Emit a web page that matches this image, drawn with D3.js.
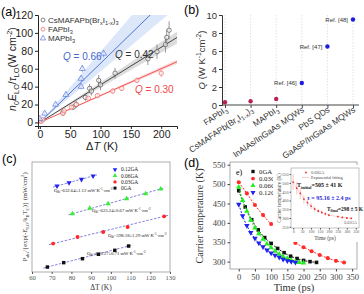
<!DOCTYPE html>
<html lang="en">
<head>
<meta charset="utf-8">
<title>Hot carrier cooling panels</title>
<script src="https://cdn.jsdelivr.net/npm/d3@7"></script>
<style>
	body { margin: 0; background: #fff; }
	svg text { font-family: "Liberation Sans", Arial, sans-serif; }
	.serif text { font-family: "Liberation Serif", "Times New Roman", serif; }
</style>
</head>
<body>
<script>
//---- panel (a) data
var aLabels = ["CsMAFAPb(Br_xI_{1-x})_3", "FAPbI_3", "MAPbI_3"];
var aSlopes = [0.42, 0.30, 0.66];
var aBandLo = [0.39, 0.29, 0.57];
var aBandHi = [0.45, 0.31, 0.79];
var aCsT = [1, 38, 55, 60, 75, 82, 85, 97, 100, 124, 178, 193, 207, 209, 213];
var aCsV = [2, 11, 17, 20, 28, 38, 35, 47, 42, 55, 71, 79, 87, 95, 103];
var aCsE = [2, 3, 3, 4, 4, 5, 5, 6, 6, 6, 7, 8, 9, 9, 10];
var aFaT = [2, 5, 38, 40, 52, 60, 80, 95, 120, 135, 160, 200];
var aFaV = [1, 3, 10, 13, 17, 20, 27, 30, 35, 38, 47, 55];
var aFaE = [1, 1, 2, 2, 2, 2, 2, 2, 3, 3, 3, 4];
var aMaT = [0, 8, 26, 43, 68, 68, 70, 105];
var aMaV = [4, 10, 20, 31, 40, 49, 60, 77];
var aMaE = [2, 2, 2, 3, 3, 3, 4, 4];

//---- panel (b) data
var bCats = ["FAPbI_3", "CsMAFAPb(Br_xI_{1-x})_3", "MAPbI_3", "InAlAs/InGaAs MQWs", "PbS QDs", "GaAsP/InGaAs MQWs"];
var bQ = [0.30, 0.42, 0.66, 2.45, 6.5, 9.5];
var bRefs = ["", "", "", "Ref. [46]", "Ref. [47]", "Ref. [48]"];

//---- panel (c) data
var cNames = ["0.12GA", "0.06GA", "0.03GA", "0GA"];
var cT = [
	[72.7, 78.8, 85.1, 91.0],
	[80.5, 89.3, 98.6, 108, 117.6, 125.3],
	[70.7, 83.1, 96.1, 108.5, 127],
	[67.8, 76.1, 85.6, 93.7, 102, 109]
];
var cP = [
	[78.2, 81.2, 84.2, 87.3],
	[53, 57.9, 62.1, 66.7, 71.2, 75.5],
	[25.8, 31.8, 36.4, 40.9, 50.6],
	[4.5, 8.5, 12.1, 16.1, 19.7, 23.6]
];
var cQth = ["632.64\u00b11.12", "623.24\u00b10.67", "598.18\u00b11.29", "610.27\u00b10.71"];

//---- panel (d) data
var dNames = ["0GA", "0.03GA", "0.06GA", "0.12GA"];
var dTime = [
	[0, 20, 40, 60, 80, 100, 120, 140, 160, 180, 200, 220, 240],
	[0, 25, 50, 75, 100, 125, 150, 175, 200, 225, 250, 275, 300, 325],
	[0, 12, 25, 37, 50, 62, 75, 87, 100, 112, 125, 137, 150, 162, 175, 187, 200],
	[0, 12, 25, 37, 50, 62, 75, 87, 100, 112, 125, 137, 150, 162, 175]
];
var dTemp = [
	[483, 441, 408, 382, 362, 347, 334, 323, 314, 308, 303, 300, 298],
	[505, 476, 446, 420, 397, 378, 361, 348, 337, 327, 317, 309, 302, 298],
	[492, 458, 430, 407, 387, 372, 358, 346, 336, 327, 319, 313, 308, 304, 300, 298, 297],
	[448, 418, 393, 375, 360, 348, 338, 330, 322, 316, 311, 306, 302, 300, 298]
];
var inTime = [0, 20, 40, 60, 80, 100, 120, 140, 160, 180, 200, 250, 275, 300, 325];
var inTemp = [505, 470, 440, 408, 388, 368, 352, 340, 332, 324, 316, 308, 303, 300, 298];
var inErr = [45, 35, 30, 25, 20, 18, 15, 12, 10, 10, 8, 6, 5, 5, 5];

var w = 364, h = 294;
var svg = d3.select("body").append("svg").attr("width", w).attr("height", h);

//writes text with _sub, ^sup and *italic* markup
function rich(t, s, fs) {
	var cur = 0;
	s.split("*").forEach(function(seg, si) {
		var re = /([_^])(\{([^}]*)\}|(.))/g, last = 0, m, parts = [];
		while ((m = re.exec(seg))) {
			if (m.index > last) parts.push([seg.slice(last, m.index), 0]);
			parts.push([m[3] !== undefined ? m[3] : m[4], m[1] === "_" ? 1 : -1]);
			last = re.lastIndex;
		}
		if (last < seg.length) parts.push([seg.slice(last), 0]);
		parts.forEach(function(p) {
			var off = p[1] > 0 ? fs * 0.25 : p[1] < 0 ? -fs * 0.4 : 0;
			var ts = t.append("tspan").attr("dy", off - cur)
				.attr("font-size", p[1] ? fs * 0.7 : fs).text(p[0]);
			if (si % 2 === 1) ts.attr("font-style", "italic");
			cur = off;
		});
	});
	return t;
}

function styleAxis(g, col, fs) {
	g.selectAll("path, line").attr("stroke", col);
	g.selectAll("text").attr("fill", col).attr("font-size", fs);
}

function panelLabel(s, x, y) {
	svg.append("text").attr("x", x).attr("y", y).attr("font-size", 12.5).text(s);
}

// ======================= (a)
var ax = d3.scaleLinear().domain([-3, 226]).range([38, 177]);
var ay = d3.scaleLinear().domain([-4, 120]).range([126, 15]);
var ga = svg.append("g");
ga.append("clipPath").attr("id", "clipA").append("rect")
	.attr("x", 38).attr("y", 15).attr("width", 139).attr("height", 111);
var aCols = ["#555", "#f06060", "#5577dd"];
var aLine = ["#333", "#f04848", "#4466cc"];
var aBand = ["rgba(140,140,140,0.3)", "rgba(245,120,120,0.3)", "rgba(140,175,235,0.3)"];
var plotA = ga.append("g").attr("clip-path", "url(#clipA)");
aSlopes.forEach(function(q, i) {
	plotA.append("path")
		.attr("d", d3.area().x(function(d) { return ax(d); })
			.y0(function(d) { return ay(d * aBandLo[i]); })
			.y1(function(d) { return ay(d * aBandHi[i]); })([0, 226]))
		.attr("fill", aBand[i]);
});
aSlopes.forEach(function(q, i) {
	plotA.append("line")
		.attr("x1", ax(0)).attr("y1", ay(0))
		.attr("x2", ax(226)).attr("y2", ay(226 * q))
		.attr("stroke", aLine[i]).attr("stroke-width", 0.9);
});
var aSets = [[aCsT, aCsV, aCsE], [aFaT, aFaV, aFaE], [aMaT, aMaV, aMaE]];
aSets.forEach(function(set, i) {
	var pts = set[0].map(function(t, j) { return [t, set[1][j], set[2][j]]; });
	var g = plotA.append("g");
	g.selectAll("line").data(pts).enter().append("line")
		.attr("x1", function(d) { return ax(d[0]); })
		.attr("x2", function(d) { return ax(d[0]); })
		.attr("y1", function(d) { return ay(d[1] - d[2]); })
		.attr("y2", function(d) { return ay(d[1] + d[2]); })
		.attr("stroke", aCols[i]).attr("stroke-width", 0.6);
	g.selectAll("path").data(pts).enter().append("path")
		.attr("d", d3.symbol().type(i === 2 ? d3.symbolTriangle : d3.symbolCircle).size(15))
		.attr("transform", function(d) { return "translate(" + ax(d[0]) + "," + ay(d[1]) + ")"; })
		.attr("fill", "#fff").attr("fill-opacity", 0.6)
		.attr("stroke", aCols[i]).attr("stroke-width", 0.7);
});
var axA = ga.append("g").attr("transform", "translate(0,126)")
	.call(d3.axisBottom(ax).tickValues([0, 50, 100, 150, 200]).tickSize(3).tickPadding(2));
styleAxis(axA, "#222", 10.5);
var ayA = ga.append("g").attr("transform", "translate(38,0)")
	.call(d3.axisLeft(ay).tickValues([0, 20, 40, 60, 80, 100, 120]).tickSize(3).tickPadding(2));
styleAxis(ayA, "#222", 10.5);
rich(ga.append("text").attr("text-anchor", "middle")
	.attr("transform", "translate(16,69) rotate(-90)").attr("fill", "#222"),
	"*n*_0*E*_{LO}/*\u03c4*_{LO}(W cm^{-2})", 10.5);
rich(ga.append("text").attr("x", 102).attr("y", 150).attr("text-anchor", "middle").attr("fill", "#222"),
	"\u0394*T* (K)", 11);
//legend
aLabels.forEach(function(s, i) {
	var yy = 20 + i * 9.2;
	ga.append("path").attr("d", d3.symbol().type(i === 2 ? d3.symbolTriangle : d3.symbolCircle).size(12))
		.attr("transform", "translate(43," + yy + ")")
		.attr("fill", "none").attr("stroke", aCols[i]).attr("stroke-width", 0.7);
	rich(ga.append("text").attr("x", 48).attr("y", yy + 2.8).attr("fill", "#333"), s, 8);
});
//slope notes
var aNotes = [[115, 58, " = 0.42"], [135, 93, " = 0.30"], [63, 60, " = 0.66"]];
aNotes.forEach(function(n, i) {
	rich(ga.append("text").attr("x", n[0]).attr("y", n[1]).attr("fill", aLine[i]), "*Q*" + n[2], 10);
});
panelLabel("(a)", 1, 16);

// ======================= (b)
var bx = d3.scalePoint().domain(bCats).range([225, 353]);
var by = d3.scaleLinear().domain([0, 10]).range([105, 15]);
var gb = svg.append("g");
gb.selectAll("line.grid").data(bCats).enter().append("line")
	.attr("class", "grid")
	.attr("x1", function(d) { return bx(d); }).attr("x2", function(d) { return bx(d); })
	.attr("y1", 15).attr("y2", 105)
	.attr("stroke", "#ccc").attr("stroke-width", 0.6).attr("stroke-dasharray", "1.5,1.5");
var axB = gb.append("g").attr("transform", "translate(0,105)")
	.call(d3.axisBottom(bx).tickSize(3).tickFormat(""));
axB.select(".domain").attr("d", "M222,0H359");
styleAxis(axB, "#444", 9);
var ayB = gb.append("g").attr("transform", "translate(222,0)")
	.call(d3.axisLeft(by).ticks(5).tickSize(3).tickPadding(2));
styleAxis(ayB, "#333", 9.5);
gb.selectAll("circle").data(bQ).enter().append("circle")
	.attr("cx", function(d, i) { return bx(bCats[i]); })
	.attr("cy", function(d) { return by(d); })
	.attr("r", 2.2)
	.attr("fill", function(d, i) { return i < 3 ? "#b8205a" : "#1c1ce0"; });
bRefs.forEach(function(r, i) {
	if (!r) return;
	gb.append("text").attr("x", bx(bCats[i]) - 5).attr("y", by(bQ[i]) + 2)
		.attr("text-anchor", "end").attr("font-size", 6).attr("fill", "#333").text(r);
});
bCats.forEach(function(c) {
	rich(gb.append("text").attr("text-anchor", "end").attr("fill", "#333")
		.attr("transform", "translate(" + (bx(c) + 3) + ",111) rotate(-34)"), c, 8.5);
});
rich(gb.append("text").attr("text-anchor", "middle").attr("fill", "#333")
	.attr("transform", "translate(205,60) rotate(-90)"), "*Q* (W K^{-1}cm^{-2})", 9.5);
panelLabel("(b)", 184, 14);

// ======================= (c)
var cx = d3.scaleLinear().domain([60, 130]).range([32, 170]);
var cy = d3.scaleLinear().domain([0, 100]).range([272, 162]);
var gc = svg.append("g").attr("class", "serif");
gc.append("rect").attr("x", 32).attr("y", 162).attr("width", 138).attr("height", 110)
	.attr("fill", "none").attr("stroke", "#777").attr("stroke-width", 0.6);
var axC = gc.append("g").attr("transform", "translate(0,272)")
	.call(d3.axisBottom(cx).ticks(8).tickSize(2).tickPadding(1.5));
styleAxis(axC, "#555", 6.6);
axC.select(".domain").remove();
var cCols = ["#2323f0", "#33ee33", "#ff2626", "#111"];
var cSym = [d3.symbolTriangle, d3.symbolTriangle, d3.symbolCircle, d3.symbolSquare];
cT.forEach(function(ts, i) {
	var n = ts.length - 1;
	var k = (cP[i][n] - cP[i][0]) / (ts[n] - ts[0]);
	gc.append("line")
		.attr("x1", cx(ts[0] - 2)).attr("y1", cy(cP[i][0] - 2 * k))
		.attr("x2", cx(ts[n] + 2)).attr("y2", cy(cP[i][n] + 2 * k))
		.attr("stroke", "#7474dc").attr("stroke-width", 0.9).attr("stroke-dasharray", "2.5,1.5");
	gc.selectAll("path.s" + i).data(ts).enter().append("path")
		.attr("d", d3.symbol().type(cSym[i]).size(12))
		.attr("transform", function(d, j) {
			return "translate(" + cx(d) + "," + cy(cP[i][j]) + ")" + (i === 0 ? " rotate(180)" : "");
		})
		.attr("fill", cCols[i]);
});
var cNotePos = [[54, 192], [92, 212], [108, 237], [87, 255]];
cQth.forEach(function(q, i) {
	rich(gc.append("text").attr("x", cNotePos[i][0]).attr("y", cNotePos[i][1]).attr("fill", "#222"),
		"Q_{th}=" + q + " mW K^{-1}\u00b7cm^{-2}", 4.7);
});
cNames.forEach(function(s, i) {
	var yy = 169.5 + i * 6.2;
	gc.append("path").attr("d", d3.symbol().type(cSym[i]).size(9))
		.attr("transform", "translate(115," + yy + ")" + (i === 0 ? " rotate(180)" : ""))
		.attr("fill", cCols[i]);
	gc.append("text").attr("x", 121).attr("y", yy + 1.8).attr("font-size", 5.4).attr("fill", "#222").text(s);
});
rich(gc.append("text").attr("x", 101).attr("y", 290).attr("text-anchor", "middle").attr("fill", "#333"),
	"\u0394T (K)", 7.5);
rich(gc.append("text").attr("text-anchor", "middle").attr("fill", "#333")
	.attr("transform", "translate(27,217) rotate(-90)"),
	"P_{abs}/{exp(-E_{LO}/k_BT_C)} (mW/cm^2)", 6.6);
panelLabel("(c)", 2, 163);

// ======================= (d)
var dx = d3.scaleLinear().domain([-27, 365]).range([230, 357]);
var dy = d3.scaleLinear().domain([281, 557]).range([269, 162]);
var gd = svg.append("g").attr("class", "serif");
gd.append("rect").attr("x", 230).attr("y", 162).attr("width", 127).attr("height", 107)
	.attr("fill", "none").attr("stroke", "#888").attr("stroke-width", 0.7);
var axD = gd.append("g").attr("transform", "translate(0,269)")
	.call(d3.axisBottom(dx).tickValues([0, 50, 100, 150, 200, 250, 300, 350]).tickSize(2.5).tickPadding(2.5));
axD.select(".domain").remove();
styleAxis(axD, "#444", 8.5);
var ayD = gd.append("g").attr("transform", "translate(230,0)")
	.call(d3.axisLeft(dy).tickValues([300, 350, 400, 450, 500, 550]).tickSize(2.5).tickPadding(2));
ayD.select(".domain").remove();
styleAxis(ayD, "#444", 8.5);
var dCols = ["#111", "#ff2a2a", "#22ee22", "#2222ee"];
var dSym = [d3.symbolSquare, d3.symbolCircle, d3.symbolTriangle, d3.symbolTriangle];
dTime.forEach(function(ts, i) {
	var pts = ts.map(function(t, j) { return [t, dTemp[i][j]]; });
	gd.append("path")
		.attr("d", d3.line().curve(d3.curveMonotoneX)
			.x(function(d) { return dx(d[0]); }).y(function(d) { return dy(d[1]); })(pts))
		.attr("fill", "none").attr("stroke", dCols[i]).attr("stroke-width", 1)
		.attr("stroke-dasharray", "2,1.5");
	gd.selectAll("path.m" + i).data(pts).enter().append("path")
		.attr("d", d3.symbol().type(dSym[i]).size(13))
		.attr("transform", function(d) {
			return "translate(" + dx(d[0]) + "," + dy(d[1]) + ")" + (i === 3 ? " rotate(180)" : "");
		})
		.attr("fill", dCols[i]);
});
gd.append("text").attr("x", 236).attr("y", 175).attr("font-size", 8).text("e)");
dNames.forEach(function(s, i) {
	var yy = 171.5 + i * 7;
	gd.append("path").attr("d", d3.symbol().type(dSym[i]).size(11))
		.attr("transform", "translate(253," + yy + ")" + (i === 3 ? " rotate(180)" : ""))
		.attr("fill", dCols[i]);
	gd.append("text").attr("x", 259).attr("y", yy + 2.3).attr("font-size", 6.8).attr("fill", "#222").text(s);
});
gd.append("text").attr("text-anchor", "middle").attr("font-size", 10).attr("fill", "#333")
	.attr("transform", "translate(203,216) rotate(-90)").text("Carrier temperature (K)");
gd.append("text").attr("x", 294).attr("y", 291).attr("text-anchor", "middle")
	.attr("font-size", 10.5).attr("fill", "#333").text("Time (ps)");
panelLabel("(d)", 184, 167);

//inset
var ix = d3.scaleLinear().domain([-12, 368]).range([291, 359]);
var iy = d3.scaleLinear().domain([243, 585]).range([228, 168]);
var gi = gd.append("g");
gi.append("rect").attr("x", 273).attr("y", 165).attr("width", 88).attr("height", 77).attr("fill", "#fff");
gi.append("rect").attr("x", 291).attr("y", 168).attr("width", 68).attr("height", 60)
	.attr("fill", "none").attr("stroke", "#888").attr("stroke-width", 0.5);
var axI = gi.append("g").attr("transform", "translate(0,228)")
	.call(d3.axisBottom(ix).tickValues([0, 50, 100, 150, 200, 250, 300, 350]).tickSize(1.5).tickPadding(1));
axI.select(".domain").remove();
styleAxis(axI, "#555", 3.9);
var ayI = gi.append("g").attr("transform", "translate(291,0)")
	.call(d3.axisLeft(iy).tickValues([250, 300, 350, 400, 450, 500, 550]).tickSize(1.5).tickPadding(1));
ayI.select(".domain").remove();
styleAxis(ayI, "#555", 4.2);
var inPts = inTime.map(function(t, j) { return [t, inTemp[j], inErr[j]]; });
gi.append("path")
	.attr("d", d3.line().curve(d3.curveBasis)
		.x(function(d) { return ix(d[0]); }).y(function(d) { return iy(d[1]); })(inPts))
	.attr("fill", "none").attr("stroke", "#f08080").attr("stroke-width", 0.7).attr("stroke-dasharray", "0.8,0.8");
gi.selectAll("line.e").data(inPts).enter().append("line")
	.attr("x1", function(d) { return ix(d[0]); }).attr("x2", function(d) { return ix(d[0]); })
	.attr("y1", function(d) { return iy(d[1] - d[2]); }).attr("y2", function(d) { return iy(d[1] + d[2]); })
	.attr("stroke", "#f4a0a0").attr("stroke-width", 0.6);
gi.selectAll("circle").data(inPts).enter().append("circle")
	.attr("cx", function(d) { return ix(d[0]); }).attr("cy", function(d) { return iy(d[1]); })
	.attr("r", 0.9).attr("fill", "#e83030");
gi.append("circle").attr("cx", 306).attr("cy", 172.5).attr("r", 0.9).attr("fill", "#e83030");
gi.append("text").attr("x", 311).attr("y", 174).attr("font-size", 4.2).attr("fill", "#444").text("0.03GA");
gi.append("line").attr("x1", 302).attr("x2", 310).attr("y1", 177.5).attr("y2", 177.5)
	.attr("stroke", "#f08080").attr("stroke-width", 0.7).attr("stroke-dasharray", "0.8,0.8");
gi.append("text").attr("x", 311).attr("y", 179).attr("font-size", 4.2).attr("fill", "#444").text("Exponential fitting");
rich(gi.append("text").attr("x", 297).attr("y", 187).attr("font-weight", "bold").attr("fill", "#111"),
	"T_{initial}=505 \u00b1 41 K", 6);
gi.append("text").attr("x", 307).attr("y", 200).attr("font-weight", "bold").attr("font-size", 6)
	.attr("fill", "#2828d8").text("\u03c4 = 95.16 \u00b1 2.4 ps");
rich(gi.append("text").attr("x", 327).attr("y", 211).attr("font-weight", "bold").attr("fill", "#111"),
	"T_{final}=298 \u00b1 5 K", 5.4);
gi.append("text").attr("x", 357).attr("y", 224).attr("text-anchor", "end")
	.attr("font-size", 4).attr("fill", "#555").text("0.03GA");
gi.append("text").attr("text-anchor", "middle").attr("font-size", 5.2).attr("fill", "#444")
	.attr("transform", "translate(281,198) rotate(-90)").text("Carrier temperature (K)");
gi.append("text").attr("x", 325).attr("y", 239.5).attr("text-anchor", "middle")
	.attr("font-size", 5.6).attr("fill", "#444").text("Time (ps)");
</script>
</body>
</html>
